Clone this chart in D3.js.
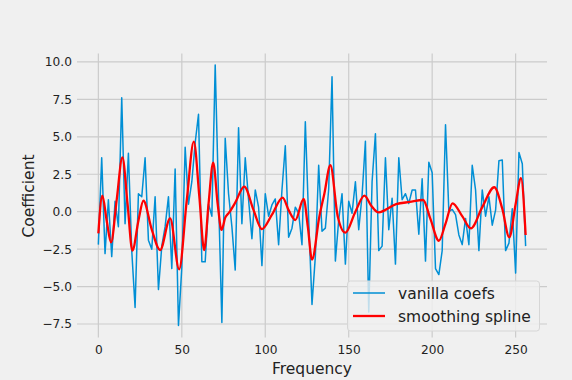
<!DOCTYPE html>
<html>
<head>
<meta charset="utf-8">
<script src="https://cdn.jsdelivr.net/npm/d3@7"></script>
<style>
  body { margin: 0; background: #f0f0f0; }
  svg { display: block; font-family: "DejaVu Sans", sans-serif; }
</style>
</head>
<body>
<div id="graph"></div>
<script>
// vanilla coefficients, one every 2 frequency steps (0..256)
var coefs = [
  -2.2, 3.6, -2.8, 0.8, -3.0, 0.7, -1.0, 7.6, -0.8, 3.9,
  -2.6, -6.4, 1.2, 1.0, 3.6, -1.9, -2.5, 1.0, -5.2, -2.3,
  -1.0, 1.0, -3.8, 2.85, -7.6, -3.7, 4.3, 0.5, 2.0, 4.6,
  6.5, -3.35, -3.35, 0.5, -0.3, 9.8, 1.0, -7.4, 4.9, 1.2,
  -1.0, -3.9, 5.6, -0.8, 3.6, 0.8, -1.8, 1.45, 0.3, -3.6,
  1.2, -0.3, 0.45, 0.85, -2.2, 1.45, 4.4, -1.7, -1.1, 0.3,
  -0.1, -2.2, 6.0, -0.5, -6.2, -3.0, 3.1, -1.3, -1.1, 1.5,
  9.0, -3.3, -0.55, 1.2, -3.5, 0.7, -0.1, 2.0, -1.2, 1.1,
  4.7, -6.7, 2.0, 5.2, -2.6, -2.3, 3.6, -1.2, 0.9, -3.5,
  3.6, 0.8, 1.2, 0.55, 1.45, 1.45, -1.5, 2.2, -3.3, 3.3,
  2.6, -3.8, -4.2, -2.6, 5.8, 0.0, 0.15, -0.2, -1.55, -2.2,
  -0.45, -2.2, 3.1, 1.45, -2.6, 1.45, -0.3, 1.0, -0.9, 0.1,
  3.4, 3.45, -2.6, -2.1, 0.2, -4.1, 3.95, 3.2, -2.3
]
var freqs = d3.range(0, 257, 2)

var splineX = [0, 2.4, 5, 7.6, 11, 14.4, 17.5, 20.4, 24, 27, 32, 37, 43, 48.4, 53, 57.2,
  60.5, 63.4, 66, 68.8, 71.5, 73.8, 76, 78.4, 82, 87.4, 93, 98, 104, 110.4, 114, 118,
  123, 125.5, 128, 132.4, 135.4, 139, 143.4, 148, 154, 159.4, 163.5, 167.8, 178.4, 186.6,
  194.6, 199, 204, 208, 212.2, 218, 223.2, 230, 237.2, 242, 246.2, 250, 253.2, 256]
var splineY = [-1.45, 1.07, -0.6, -2.05, 0.8, 3.63, 0.5, -2.6, -0.6, 0.73, -1.2, -2.56, -0.45, -3.85, 0.8, 4.68,
  1.0, -2.56, 0.5, 3.27, 0.5, -1.22, -0.4, -0.05, 0.6, 1.67, 0.1, -1.16, -0.2, 0.94, 0.1, -0.56,
  0.85, -1.0, -3.2, -0.33, 1.2, 3.1, -0.3, -1.4, 0.0, 1.07, 0.4, -0.05, 0.5, 0.65,
  0.78, -0.5, -1.94, -0.8, 0.56, -0.3, -1.11, 0.3, 1.63, 0.2, -1.71, 0.5, 2.23, -1.56]

var xTicks = [0, 50, 100, 150, 200, 250]
var yTicks = [-7.5, -5.0, -2.5, 0.0, 2.5, 5.0, 7.5, 10.0]
var seriesNames = ["vanilla coefs", "smoothing spline"]

var width = 572, height = 380
var svg = d3.select("#graph").append("svg")
  .attr("width", width).attr("height", height)

svg.append("rect").attr("width", width).attr("height", height).attr("fill", "#f0f0f0")

var x = d3.scaleLinear().domain([-12.8, 268.8]).range([77, 547])
var y = d3.scaleLinear().domain([-8.4, 10.56]).range([337.5, 53.5])

// grid
svg.append("g").selectAll("line").data(xTicks).enter().append("line")
  .attr("x1", d => x(d)).attr("x2", d => x(d))
  .attr("y1", y.range()[1]).attr("y2", y.range()[0])
  .attr("stroke", "#cbcbcb").attr("stroke-width", 1.2)
svg.append("g").selectAll("line").data(yTicks).enter().append("line")
  .attr("y1", d => y(d)).attr("y2", d => y(d))
  .attr("x1", x.range()[0]).attr("x2", x.range()[1])
  .attr("stroke", "#cbcbcb").attr("stroke-width", 1.2)

// axes (no ticks, labels only)
var xAxis = svg.append("g")
  .attr("transform", "translate(0," + y.range()[0] + ")")
  .call(d3.axisBottom(x).tickValues(xTicks).tickSize(0).tickPadding(8.3))
var yAxis = svg.append("g")
  .attr("transform", "translate(" + x.range()[0] + ",0)")
  .call(d3.axisLeft(y).tickValues(yTicks).tickSize(0).tickPadding(5)
    .tickFormat(d => d3.format(".1f")(d).replace("-", "\u2212")))
;[xAxis, yAxis].forEach(function (a) {
  a.select(".domain").remove()
  a.selectAll("text").attr("font-size", "12.2px").attr("fill", "#222")
    .attr("font-family", "DejaVu Sans, sans-serif")
})

svg.append("text").attr("x", 312).attr("y", 374).attr("text-anchor", "middle")
  .attr("font-size", "15.5px").attr("fill", "#222").text("Frequency")
svg.append("text").attr("transform", "translate(34,196) rotate(-90)")
  .attr("text-anchor", "middle").attr("font-size", "15.5px").attr("fill", "#222").text("Coefficient")

// lines
var blueLine = d3.line().x((d, i) => x(freqs[i])).y(d => y(d))
svg.append("path").datum(coefs).attr("d", blueLine)
  .attr("fill", "none").attr("stroke", "#008fd5").attr("stroke-width", 1.5)
  .attr("stroke-linejoin", "round")

var redLine = d3.line().curve(d3.curveMonotoneX).x((d, i) => x(splineX[i])).y(d => y(d))
svg.append("path").datum(splineY).attr("d", redLine)
  .attr("fill", "none").attr("stroke", "red").attr("stroke-width", 2.3)

// legend
var lg = svg.append("g")
lg.append("rect").attr("x", 347.5).attr("y", 281).attr("width", 192).attr("height", 50)
  .attr("rx", 3).attr("fill", "#f0f0f0").attr("fill-opacity", 0.8)
  .attr("stroke", "#d6d6d6").attr("stroke-width", 1)
var legColors = ["#008fd5", "red"]
seriesNames.forEach(function (name, i) {
  var cy = 293 + i * 23
  lg.append("line").attr("x1", 353).attr("x2", 385).attr("y1", cy).attr("y2", cy)
    .attr("stroke", legColors[i]).attr("stroke-width", i == 0 ? 1.5 : 2.3)
  lg.append("text").attr("x", 398).attr("y", cy + 5.5).attr("font-size", "15.5px")
    .attr("fill", "#222").text(name)
})
</script>
</body>
</html>
